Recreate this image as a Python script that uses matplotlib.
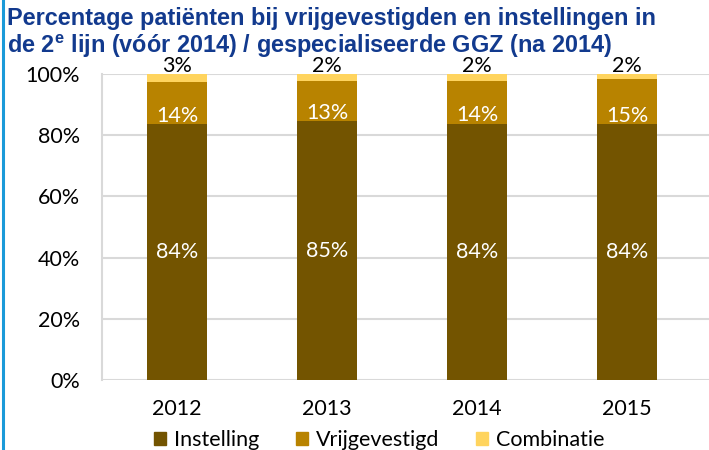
import matplotlib
matplotlib.use("Agg")
import matplotlib.pyplot as plt
from matplotlib.lines import Line2D
from matplotlib.patches import Patch

years = ["2012", "2013", "2014", "2015"]
instelling = [83.5, 84.6, 83.8, 83.7]
vrijgevestigd = [13.9, 13.2, 14.0, 14.6]
combinatie = [2.6, 2.2, 2.2, 1.7]

c_inst = "#735400"
c_vrij = "#B88300"
c_comb = "#FFD45E"

fig = plt.figure(figsize=(7.09, 4.5), dpi=100)
ax = fig.add_axes([102 / 709, 1 - 380 / 450, 1 - 102 / 709, 306 / 450])

x = range(len(years))
w = 0.4
ax.bar(x, instelling, w, color=c_inst, label="Instelling", zorder=3)
ax.bar(x, vrijgevestigd, w, bottom=instelling, color=c_vrij, label="Vrijgevestigd", zorder=3)
bot2 = [a + b for a, b in zip(instelling, vrijgevestigd)]
ax.bar(x, combinatie, w, bottom=bot2, color=c_comb, label="Combinatie", zorder=3)

lab_font = "Lato"
fs = 15.5
for i in x:
    ax.text(i, instelling[i] / 2, f"{round(instelling[i])}%", ha="center", va="center",
            color="white", fontsize=fs, family=lab_font, zorder=4)
    ax.text(i, instelling[i] + 2.7, f"{round(vrijgevestigd[i])}%", ha="center", va="center",
            color="white", fontsize=fs, family=lab_font, zorder=4)
    ax.text(i, 102.6, f"{round(combinatie[i])}%", ha="center", va="center",
            color="black", fontsize=fs, family=lab_font, zorder=4, clip_on=False)

ax.set_ylim(0, 100)
ax.set_xlim(-0.5, 3.5 + 7 / 150)
ax.set_yticks(range(0, 101, 20))
ax.set_yticklabels([f"{v}%" for v in range(0, 101, 20)], family=lab_font, fontsize=fs)
ax.set_xticks(list(x))
ax.set_xticklabels(years, family=lab_font, fontsize=fs)
ax.tick_params(axis="y", length=0, pad=16)
ax.tick_params(axis="x", length=0, pad=14)
ax.grid(axis="y", color="#D9D9D9", linewidth=1.5, zorder=0)
for s in ["top", "right", "bottom"]:
    ax.spines[s].set_visible(False)
ax.spines["left"].set_color("#D9D9D9")
ax.spines["left"].set_linewidth(1.5)

handles = [Patch(color=c_inst), Patch(color=c_vrij), Patch(color=c_comb)]
fig.legend(handles, ["Instelling", "Vrijgevestigd", "Combinatie"], loc="center",
           bbox_to_anchor=(0.535, 1 - 440 / 450), ncol=3, frameon=False,
           prop={"family": lab_font, "size": fs}, handlelength=0.55, handleheight=0.55,
           handletextpad=0.37, columnspacing=1.7, borderpad=0)

title_kw = dict(fontsize=16.9, fontweight="bold", color="#123A8E",
                family="Liberation Sans", va="center")
fig.text(7 / 709, 1 - 19 / 450, "Percentage patiënten bij vrijgevestigden en instellingen in", **title_kw)
fig.text(7 / 709, 1 - 46 / 450,
         "de 2$^\\mathregular{e}$ lijn (vóór 2014) / gespecialiseerde GGZ (na 2014)", **title_kw)

fig.add_artist(Line2D([2.5 / 709, 2.5 / 709], [0, 1], color="#1A9AD9", linewidth=2.2))

fig.savefig("out.png", dpi=100)
